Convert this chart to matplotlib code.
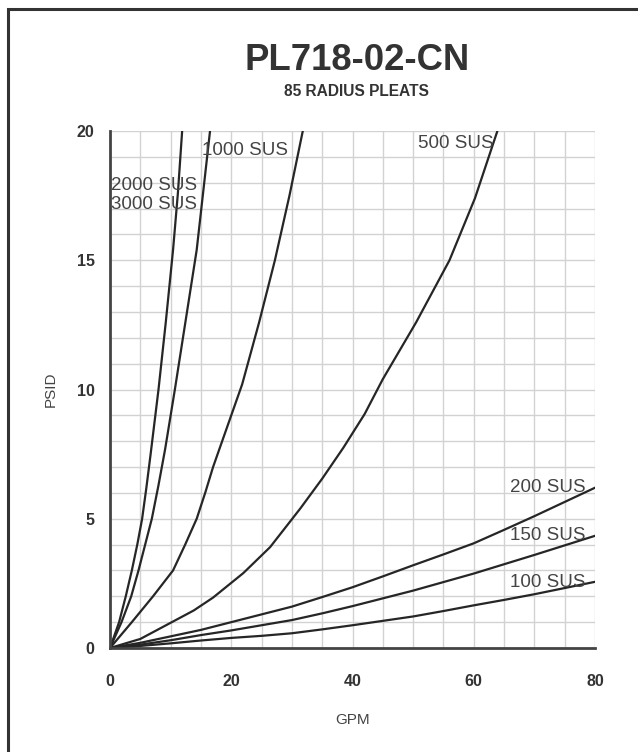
import matplotlib
matplotlib.use("Agg")
import matplotlib.pyplot as plt
from matplotlib.patches import Rectangle

plt.rcParams['font.family'] = ['Liberation Sans', 'DejaVu Sans']

title = "PL718-02-CN"
subtitle = "85 RADIUS PLEATS"
x_label = "GPM"
y_label = "PSID"
x_ticks = [0, 20, 40, 60, 80]
y_ticks = [0, 5, 10, 15, 20]

# Curves: (GPM, PSID)
gpm_3000 = [0, 1.5, 2.6, 3.6, 4.5, 5.3, 6.0, 6.7, 8.0, 9.2, 10.4, 11.2, 11.9]
psi_3000 = [0, 1.0, 2.0, 3.0, 4.0, 5.0, 6.2, 7.5, 10.0, 12.6, 15.4, 17.6, 20.0]

gpm_2000 = [0, 1.9, 3.5, 4.7, 5.8, 6.9, 8.0, 9.1, 10.7, 12.5, 14.3, 15.4, 16.5]
psi_2000 = [0, 1.0, 2.0, 3.0, 4.0, 5.0, 6.3, 7.7, 10.0, 12.7, 15.4, 17.7, 20.0]

gpm_1000 = [0, 3.6, 7.1, 10.4, 12.4, 14.3, 15.7, 17.0, 19.4, 21.8, 24.6, 27.2, 29.6, 31.8]
psi_1000 = [0, 1.0, 2.0, 3.0, 4.0, 5.0, 6.0, 7.0, 8.6, 10.2, 12.6, 15.0, 17.5, 20.0]

gpm_500 = [0, 5, 10.2, 13.8, 17.0, 22.0, 26.4, 31.4, 35.0, 38.5, 42.0, 45.0,
           50.5, 56.0, 60.2, 63.9]
psi_500 = [0, 0.35, 1.0, 1.45, 1.95, 2.9, 3.9, 5.4, 6.55, 7.75, 9.05, 10.4,
           12.6, 15.0, 17.4, 20.0]

gpm_200 = [0, 5, 10, 15, 20, 25, 30, 35, 40, 45, 50, 55, 60, 65, 70, 75, 80]
psi_200 = [0, 0.2, 0.45, 0.7, 1.0, 1.3, 1.6, 1.97, 2.35, 2.77, 3.2, 3.62,
           4.05, 4.57, 5.1, 5.65, 6.2]

gpm_150 = [0, 5, 10, 15, 20, 25, 30, 35, 40, 45, 50, 55, 60, 65, 70, 75, 80]
psi_150 = [0, 0.13, 0.3, 0.5, 0.68, 0.88, 1.08, 1.34, 1.62, 1.92, 2.22,
           2.55, 2.88, 3.24, 3.6, 3.97, 4.34]

gpm_100 = [0, 5, 10, 15, 20, 25, 30, 35, 40, 45, 50, 55, 60, 65, 70, 75, 80]
psi_100 = [0, 0.08, 0.18, 0.29, 0.39, 0.47, 0.57, 0.72, 0.88, 1.05, 1.22,
           1.43, 1.65, 1.86, 2.08, 2.32, 2.56]

series = [
    (gpm_3000, psi_3000),
    (gpm_2000, psi_2000),
    (gpm_1000, psi_1000),
    (gpm_500, psi_500),
    (gpm_200, psi_200),
    (gpm_150, psi_150),
    (gpm_100, psi_100),
]

# label text, x (GPM), y (PSID)
curve_labels = [
    ("2000 SUS", 0.1, 17.9),
    ("3000 SUS", 0.1, 17.15),
    ("1000 SUS", 15.1, 19.25),
    ("500 SUS", 50.8, 19.5),
    ("200 SUS", 65.9, 6.2),
    ("150 SUS", 65.9, 4.35),
    ("100 SUS", 65.9, 2.55),
]

W, H = 638, 752
fig = plt.figure(figsize=(W / 100, H / 100), dpi=100)
fig.patch.set_facecolor('white')

# outer frame
fig.patches.append(Rectangle((8 / W, -0.05), 1.2, 1 - 9 / H + 0.05,
                             transform=fig.transFigure, fill=False,
                             edgecolor='#333333', linewidth=2.2))

ax = fig.add_axes([110 / W, 1 - 648 / H, (595 - 110) / W, (648 - 131) / H])
ax.set_xlim(0, 80)
ax.set_ylim(0, 20)

ax.set_xticks([v for v in range(0, 81, 5)], minor=True)
ax.set_yticks([v for v in range(0, 21, 1)], minor=True)
ax.set_xticks(x_ticks)
ax.set_yticks(y_ticks)
ax.grid(True, which='both', color='#d2d2d2', linewidth=1.0)
ax.set_axisbelow(True)

for s in ['top', 'right']:
    ax.spines[s].set_visible(False)
for s in ['left', 'bottom']:
    ax.spines[s].set_color('#444444')
    ax.spines[s].set_linewidth(2.0)

ax.tick_params(which='both', length=0)
ax.tick_params(axis='x', pad=19)
ax.tick_params(axis='y', pad=11)
for lab in ax.get_xticklabels() + ax.get_yticklabels():
    lab.set_fontweight('bold')
    lab.set_fontsize(11.5)
    lab.set_color('#333333')

for gx, py in series:
    ax.plot(gx, py, color='#262626', linewidth=1.6, clip_on=True,
            solid_joinstyle='round')

for txt, lx, ly in curve_labels:
    ax.text(lx, ly, txt, ha='left', va='center', fontsize=13.5, color='#444444')

ax.set_xlabel(x_label, fontsize=11, color='#444444', labelpad=17)
ax.set_ylabel(y_label, fontsize=11, color='#444444', labelpad=14)

fig.text(357 / W, 1 - 61 / H, title, ha='center', va='center',
         fontsize=26.3, fontweight='bold', color='#333333')
fig.text(357 / W, 1 - 92 / H, subtitle, ha='center', va='center',
         fontsize=11.2, fontweight='bold', color='#333333')

fig.savefig('out.png', dpi=100)
